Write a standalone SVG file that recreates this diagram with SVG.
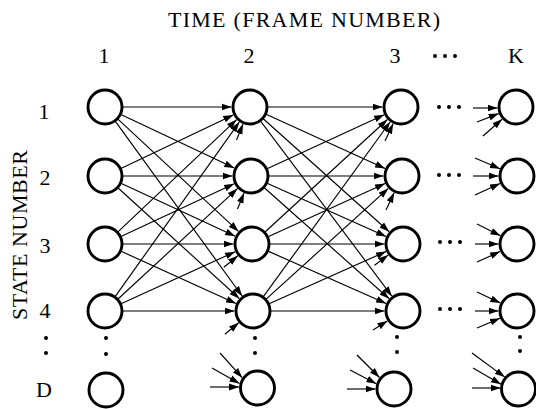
<svg xmlns="http://www.w3.org/2000/svg" width="536" height="409" viewBox="0 0 536 409">
<style>
.n{fill:#fff;stroke:#000;stroke-width:2.9}
.e{stroke:#000;stroke-width:1.15;fill:none;marker-end:url(#ah)}
.t{font-family:"Liberation Serif","Times New Roman",serif;font-size:22px;fill:#000}
.d{fill:#000}
</style>
<defs>
<marker id="ah" markerUnits="userSpaceOnUse" markerWidth="11" markerHeight="8" refX="10" refY="4" orient="auto"><path d="M0,0.6 L10,4 L0,7.4 z" fill="#000"/></marker>
</defs>
<g id="labels">
<text class="t" x="168" y="27" textLength="272" lengthAdjust="spacing">TIME (FRAME NUMBER)</text>
<text class="t" x="104" y="63" text-anchor="middle">1</text>
<text class="t" x="249" y="63" text-anchor="middle">2</text>
<text class="t" x="395" y="63" text-anchor="middle">3</text>
<text class="t" x="516" y="63" text-anchor="middle">K</text>
<circle class="d" cx="435" cy="56" r="2"/><circle class="d" cx="445" cy="56" r="2"/><circle class="d" cx="455" cy="56" r="2"/>
<text class="t" transform="translate(27,320) rotate(-90)" textLength="170" lengthAdjust="spacing">STATE NUMBER</text>
<text class="t" x="44" y="119" text-anchor="middle">1</text>
<text class="t" x="45" y="185" text-anchor="middle">2</text>
<text class="t" x="45" y="253" text-anchor="middle">3</text>
<text class="t" x="45" y="318" text-anchor="middle">4</text>
<text class="t" x="44" y="397" text-anchor="middle">D</text>
<circle class="d" cx="46" cy="338" r="2"/><circle class="d" cx="46" cy="353" r="2"/>
</g>
<g id="connectors">
<line class="e" x1="122" y1="107" x2="231.5" y2="107"/>
<line class="e" x1="120.4" y1="114.3" x2="234.3" y2="168.1"/>
<line class="e" x1="117.4" y1="118.6" x2="238.5" y2="231.4"/>
<line class="e" x1="115" y1="120.8" x2="242.1" y2="296"/>
<line class="e" x1="120.4" y1="168.7" x2="233.3" y2="114.9"/>
<line class="e" x1="122" y1="176" x2="232.5" y2="176"/>
<line class="e" x1="120.4" y1="183.1" x2="235.2" y2="236.2"/>
<line class="e" x1="117.6" y1="187.5" x2="239.3" y2="298.5"/>
<line class="e" x1="117.4" y1="232.3" x2="236.6" y2="119.7"/>
<line class="e" x1="120.4" y1="236.8" x2="234.2" y2="183.8"/>
<line class="e" x1="122" y1="244" x2="233.5" y2="244"/>
<line class="e" x1="120.5" y1="251" x2="236.1" y2="303.4"/>
<line class="e" x1="114.8" y1="297.1" x2="239.3" y2="122.1"/>
<line class="e" x1="117.5" y1="299.5" x2="237.4" y2="188.6"/>
<line class="e" x1="120.5" y1="304" x2="235.2" y2="251.7"/>
<line class="e" x1="122" y1="311" x2="234.5" y2="311"/>
<line class="e" x1="267" y1="107" x2="382.5" y2="107"/>
<line class="e" x1="265.5" y1="114" x2="385.1" y2="168.4"/>
<line class="e" x1="262.7" y1="118.3" x2="389.2" y2="231.7"/>
<line class="e" x1="260.2" y1="120.6" x2="391.9" y2="296.2"/>
<line class="e" x1="266.5" y1="168.9" x2="384.2" y2="114.7"/>
<line class="e" x1="268" y1="176" x2="383.5" y2="176"/>
<line class="e" x1="266.5" y1="182.9" x2="386.1" y2="236.4"/>
<line class="e" x1="263.7" y1="187.3" x2="389.2" y2="298.7"/>
<line class="e" x1="264.5" y1="232.5" x2="387.4" y2="119.5"/>
<line class="e" x1="267.5" y1="237" x2="385.1" y2="183.6"/>
<line class="e" x1="269" y1="244" x2="384.5" y2="244"/>
<line class="e" x1="267.5" y1="250.9" x2="386.1" y2="303.5"/>
<line class="e" x1="263" y1="297.2" x2="390.1" y2="122"/>
<line class="e" x1="265.6" y1="299.6" x2="388.3" y2="188.4"/>
<line class="e" x1="268.5" y1="304.1" x2="386.1" y2="251.5"/>
<line class="e" x1="270" y1="311" x2="384.5" y2="311"/>
<line class="e" x1="236.5" y1="140" x2="243" y2="124.1"/>
<line class="e" x1="237.5" y1="209" x2="244" y2="193.1"/>
<line class="e" x1="223.9" y1="267.3" x2="237.8" y2="255.8"/>
<line class="e" x1="224.9" y1="334.3" x2="238.8" y2="322.8"/>
<line class="e" x1="220" y1="353" x2="242.2" y2="377.7"/>
<line class="e" x1="212" y1="368" x2="239.5" y2="383.4"/>
<line class="e" x1="210" y1="387" x2="239" y2="387"/>
<line class="e" x1="385" y1="141" x2="393.1" y2="123.7"/>
<line class="e" x1="386" y1="210" x2="394.1" y2="192.7"/>
<line class="e" x1="374.5" y1="265.3" x2="388.2" y2="255.1"/>
<line class="e" x1="373" y1="330" x2="387.4" y2="320.9"/>
<line class="e" x1="357" y1="355" x2="379.5" y2="377.5"/>
<line class="e" x1="350" y1="370" x2="376.3" y2="383.7"/>
<line class="e" x1="347" y1="389" x2="375.5" y2="389"/>
<line class="e" x1="473" y1="108" x2="497.5" y2="108"/>
<line class="e" x1="477" y1="122" x2="498.7" y2="113.6"/>
<line class="e" x1="483" y1="136" x2="502.1" y2="119.2"/>
<line class="e" x1="475" y1="158" x2="500" y2="168.7"/>
<line class="e" x1="473" y1="176" x2="498.5" y2="176"/>
<line class="e" x1="475" y1="195" x2="500.1" y2="183.6"/>
<line class="e" x1="477" y1="224" x2="500.5" y2="235.7"/>
<line class="e" x1="475" y1="244" x2="498.5" y2="244"/>
<line class="e" x1="477" y1="262" x2="500.1" y2="251.6"/>
<line class="e" x1="477" y1="292" x2="500.3" y2="303.1"/>
<line class="e" x1="475" y1="311" x2="498.5" y2="311"/>
<line class="e" x1="477" y1="328" x2="500" y2="318.2"/>
<line class="e" x1="472" y1="353" x2="504.8" y2="377.1"/>
<line class="e" x1="473" y1="368" x2="501" y2="384.3"/>
<line class="e" x1="472" y1="388" x2="500.5" y2="388"/>
</g>
<g id="dots">
<circle class="d" cx="106" cy="338" r="2"/><circle class="d" cx="106" cy="354" r="2"/>
<circle class="d" cx="255" cy="338" r="2"/><circle class="d" cx="255" cy="353" r="2"/>
<circle class="d" cx="397" cy="337" r="2"/><circle class="d" cx="397" cy="352" r="2"/>
<circle class="d" cx="520" cy="337" r="2"/><circle class="d" cx="520" cy="351" r="2"/>
<circle class="d" cx="439" cy="107" r="2"/><circle class="d" cx="449" cy="107" r="2"/><circle class="d" cx="459" cy="107" r="2"/>
<circle class="d" cx="439" cy="175" r="2"/><circle class="d" cx="449" cy="175" r="2"/><circle class="d" cx="459" cy="175" r="2"/>
<circle class="d" cx="440" cy="242" r="2"/><circle class="d" cx="450" cy="242" r="2"/><circle class="d" cx="460" cy="242" r="2"/>
<circle class="d" cx="440" cy="309" r="2"/><circle class="d" cx="450" cy="309" r="2"/><circle class="d" cx="460" cy="309" r="2"/>
</g>
<g id="n1-1"><circle class="n" cx="105" cy="107" r="17"/></g>
<g id="n1-2"><circle class="n" cx="105" cy="176" r="17"/></g>
<g id="n1-3"><circle class="n" cx="105" cy="244" r="17"/></g>
<g id="n1-4"><circle class="n" cx="105" cy="311" r="17"/></g>
<g id="n1-D"><circle class="n" cx="106" cy="390" r="17"/></g>
<g id="n2-1"><circle class="n" cx="250" cy="107" r="17"/></g>
<g id="n2-2"><circle class="n" cx="251" cy="176" r="17"/></g>
<g id="n2-3"><circle class="n" cx="252" cy="244" r="17"/></g>
<g id="n2-4"><circle class="n" cx="253" cy="311" r="17"/></g>
<g id="n2-D"><circle class="n" cx="257.5" cy="388" r="17"/></g>
<g id="n3-1"><circle class="n" cx="401" cy="107" r="17"/></g>
<g id="n3-2"><circle class="n" cx="402" cy="176" r="17"/></g>
<g id="n3-3"><circle class="n" cx="403" cy="244" r="17"/></g>
<g id="n3-4"><circle class="n" cx="403" cy="311" r="17"/></g>
<g id="n3-D"><circle class="n" cx="394" cy="389" r="17"/></g>
<g id="nK-1"><circle class="n" cx="516" cy="107" r="17"/></g>
<g id="nK-2"><circle class="n" cx="517" cy="176" r="17"/></g>
<g id="nK-3"><circle class="n" cx="517" cy="244" r="17"/></g>
<g id="nK-4"><circle class="n" cx="517" cy="311" r="17"/></g>
<g id="nK-D"><circle class="n" cx="518.5" cy="389" r="17"/></g>
</svg>
